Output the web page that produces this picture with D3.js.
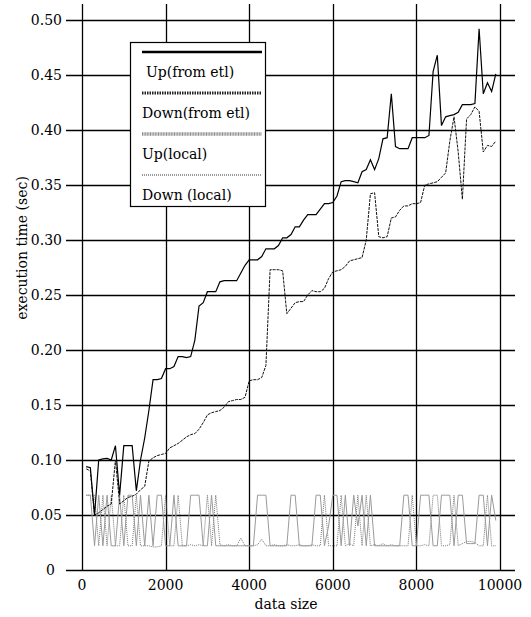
<!DOCTYPE html>
<html>
<head>
<meta charset="utf-8">
<script src="https://cdn.jsdelivr.net/npm/d3@7"></script>
<style>
  body { margin: 0; background: #fff; }
</style>
</head>
<body>
<div id="chart-area"></div>
<script>
// data size (x)
var dataSize = [100, 200, 300, 400, 500, 600, 700, 800, 900, 1000,
  1100, 1200, 1300, 1400, 1500, 1600, 1700, 1800, 1900, 2000,
  2100, 2200, 2300, 2400, 2500, 2600, 2700, 2800, 2900, 3000,
  3100, 3200, 3300, 3400, 3500, 3600, 3700, 3800, 3900, 4000,
  4100, 4200, 4300, 4400, 4500, 4600, 4700, 4800, 4900, 5000,
  5100, 5200, 5300, 5400, 5500, 5600, 5700, 5800, 5900, 6000,
  6100, 6200, 6300, 6400, 6500, 6600, 6700, 6800, 6900, 7000,
  7100, 7200, 7300, 7400, 7500, 7600, 7700, 7800, 7900, 8000,
  8100, 8200, 8300, 8400, 8500, 8600, 8700, 8800, 8900, 9000,
  9100, 9200, 9300, 9400, 9500, 9600, 9700, 9800, 9900];

var upEtl = [0.094, 0.093, 0.050, 0.100, 0.101, 0.1015, 0.100, 0.113, 0.068, 0.113,
  0.113, 0.113, 0.072, 0.100, 0.120, 0.145, 0.173, 0.173, 0.174, 0.183,
  0.183, 0.185, 0.194, 0.194, 0.193, 0.194, 0.209, 0.240, 0.243, 0.253,
  0.253, 0.253, 0.262, 0.263, 0.263, 0.263, 0.263, 0.270, 0.277, 0.282,
  0.282, 0.282, 0.285, 0.292, 0.292, 0.292, 0.295, 0.302, 0.302, 0.305,
  0.312, 0.312, 0.318, 0.323, 0.323, 0.323, 0.328, 0.333, 0.333, 0.334,
  0.340, 0.353, 0.354, 0.354, 0.353, 0.352, 0.362, 0.364, 0.373, 0.364,
  0.374, 0.392, 0.393, 0.433, 0.385, 0.383, 0.383, 0.383, 0.393, 0.393,
  0.393, 0.393, 0.395, 0.453, 0.468, 0.404, 0.412, 0.413, 0.414, 0.416,
  0.423, 0.423, 0.423, 0.424, 0.492, 0.433, 0.443, 0.435, 0.451];

var downEtl = [0.092, 0.090, 0.050, 0.052, 0.055, 0.058, 0.060, 0.100, 0.060, 0.063,
  0.066, 0.067, 0.069, 0.073, 0.076, 0.099, 0.102, 0.104, 0.105, 0.106,
  0.111, 0.113, 0.115, 0.118, 0.121, 0.123, 0.124, 0.128, 0.134, 0.141,
  0.143, 0.144, 0.145, 0.148, 0.153, 0.154, 0.155, 0.155, 0.157, 0.172,
  0.173, 0.173, 0.175, 0.186, 0.273, 0.273, 0.273, 0.272, 0.233, 0.238,
  0.243, 0.244, 0.244, 0.250, 0.254, 0.253, 0.253, 0.256, 0.265, 0.271,
  0.272, 0.273, 0.276, 0.281, 0.282, 0.283, 0.284, 0.300, 0.342, 0.343,
  0.303, 0.302, 0.303, 0.320, 0.321, 0.327, 0.331, 0.331, 0.333, 0.333,
  0.334, 0.350, 0.351, 0.352, 0.353, 0.357, 0.361, 0.390, 0.412, 0.380,
  0.337, 0.410, 0.414, 0.421, 0.417, 0.380, 0.386, 0.385, 0.390];

var upLocal = [0.068, 0.068, 0.022, 0.068, 0.022, 0.068, 0.022, 0.022, 0.068, 0.022,
  0.068, 0.068, 0.022, 0.068, 0.022, 0.068, 0.022, 0.068, 0.068, 0.022,
  0.022, 0.068, 0.022, 0.022, 0.022, 0.068, 0.068, 0.068, 0.022, 0.022,
  0.068, 0.022, 0.022, 0.022, 0.022, 0.022, 0.022, 0.022, 0.022, 0.022,
  0.022, 0.068, 0.068, 0.068, 0.022, 0.022, 0.022, 0.022, 0.022, 0.068,
  0.068, 0.022, 0.022, 0.022, 0.022, 0.068, 0.068, 0.022, 0.040, 0.068,
  0.068, 0.022, 0.068, 0.022, 0.068, 0.040, 0.068, 0.022, 0.068, 0.022,
  0.022, 0.022, 0.022, 0.022, 0.022, 0.022, 0.068, 0.068, 0.022, 0.022,
  0.068, 0.068, 0.068, 0.022, 0.022, 0.068, 0.068, 0.068, 0.022, 0.068,
  0.068, 0.024, 0.024, 0.024, 0.068, 0.068, 0.022, 0.068, 0.045];

var downLocal = [0.068, 0.068, 0.068, 0.022, 0.068, 0.022, 0.068, 0.022, 0.022, 0.068,
  0.022, 0.022, 0.068, 0.022, 0.022, 0.022, 0.021, 0.021, 0.022, 0.068,
  0.022, 0.022, 0.068, 0.022, 0.022, 0.023, 0.022, 0.023, 0.022, 0.068,
  0.022, 0.068, 0.023, 0.022, 0.023, 0.022, 0.022, 0.029, 0.022, 0.022,
  0.022, 0.023, 0.028, 0.022, 0.022, 0.023, 0.022, 0.022, 0.023, 0.022,
  0.022, 0.023, 0.022, 0.022, 0.023, 0.022, 0.022, 0.068, 0.022, 0.022,
  0.022, 0.068, 0.022, 0.024, 0.022, 0.068, 0.022, 0.068, 0.022, 0.023,
  0.022, 0.024, 0.022, 0.023, 0.022, 0.022, 0.022, 0.022, 0.068, 0.022,
  0.022, 0.023, 0.022, 0.068, 0.068, 0.022, 0.022, 0.023, 0.068, 0.022,
  0.024, 0.026, 0.026, 0.025, 0.022, 0.022, 0.068, 0.022, 0.022];

var xTicks = [0, 2000, 4000, 6000, 8000, 10000];
var yTicks = [0, 0.05, 0.10, 0.15, 0.20, 0.25, 0.30, 0.35, 0.40, 0.45, 0.50];
var legendLabels = ["Up(from etl)", "Down(from etl)", "Up(local)", "Down (local)"];

var serif = "DejaVu Serif";

var width = 531;
var height = 617;

var svg = d3.select("#chart-area")
  .append("svg")
  .attr("width", width)
  .attr("height", height)
  .style("font-family", serif);

var x = d3.scaleLinear().domain([0, 10000]).range([82, 500]);
var y = d3.scaleLinear().domain([0, 0.5]).range([570, 20]);

// grid: horizontal lines run past the y axis like long ticks
svg.append("g")
  .selectAll("line")
  .data(yTicks).enter()
  .append("line")
  .attr("x1", 66).attr("x2", 515)
  .attr("y1", d => Math.round(y(d)) + 0.5).attr("y2", d => Math.round(y(d)) + 0.5)
  .attr("stroke", "#000").attr("stroke-width", 1.3);

svg.append("g")
  .selectAll("line")
  .data(xTicks).enter()
  .append("line")
  .attr("x1", d => Math.round(x(d)) + 0.5).attr("x2", d => Math.round(x(d)) + 0.5)
  .attr("y1", 4).attr("y2", 570)
  .attr("stroke", "#000").attr("stroke-width", 1.3);

svg.append("g")
  .selectAll("text")
  .data(yTicks).enter()
  .append("text")
  .attr("x", d => d === 0 ? 55 : 62)
  .attr("y", d => y(d) + 5)
  .attr("text-anchor", "end")
  .attr("font-size", "14px")
  .text(d => d === 0 ? "0" : d3.format(".2f")(d));

svg.append("g")
  .selectAll("text")
  .data(xTicks).enter()
  .append("text")
  .attr("x", d => x(d))
  .attr("y", 590)
  .attr("text-anchor", "middle")
  .attr("font-size", "14px")
  .text(d => d);

svg.append("text")
  .attr("x", 286)
  .attr("y", 609)
  .attr("text-anchor", "middle")
  .attr("font-size", "14px")
  .text("data size");

svg.append("text")
  .attr("x", -248)
  .attr("y", 27)
  .attr("text-anchor", "middle")
  .attr("transform", "rotate(-90)")
  .attr("font-size", "14px")
  .text("execution time (sec)");

// series
var series = [
  { name: legendLabels[0], values: upEtl, color: "#000", width: 1.2, dash: null },
  { name: legendLabels[1], values: downEtl, color: "#111", width: 1, dash: "3,1" },
  { name: legendLabels[2], values: upLocal, color: "#9a9a9a", width: 1, dash: null },
  { name: legendLabels[3], values: downLocal, color: "#777", width: 1, dash: "1,1" }
];

var line = d3.line()
  .x((d, i) => x(dataSize[i]))
  .y(d => y(d));

svg.append("g")
  .selectAll("path")
  .data(series.slice().reverse()).enter()
  .append("path")
  .attr("d", d => line(d.values))
  .attr("fill", "none")
  .attr("stroke", d => d.color)
  .attr("stroke-width", d => d.width)
  .attr("stroke-dasharray", d => d.dash);

// legend
var legend = svg.append("g");
legend.append("rect")
  .attr("x", 130.5).attr("y", 42.5)
  .attr("width", 135).attr("height", 164)
  .attr("fill", "#fff").attr("stroke", "#000").attr("stroke-width", 1.2);

var legendStyle = [
  { color: "#000", width: 2.5, dash: null },
  { color: "#222", width: 3, dash: "1.5,1" },
  { color: "#8a8a8a", width: 3.5, dash: "1,0.6" },
  { color: "#999", width: 2, dash: "1,1" }
];

legendStyle.forEach((s, i) => {
  var ly = 52 + i * 41;
  legend.append("line")
    .attr("x1", 142).attr("x2", 262)
    .attr("y1", ly).attr("y2", ly)
    .attr("stroke", s.color)
    .attr("stroke-width", s.width)
    .attr("stroke-dasharray", s.dash);
  legend.append("text")
    .attr("x", i === 0 ? 146 : 142)
    .attr("y", ly + 25)
    .attr("font-size", "14px")
    .text(legendLabels[i]);
});
</script>
</body>
</html>
